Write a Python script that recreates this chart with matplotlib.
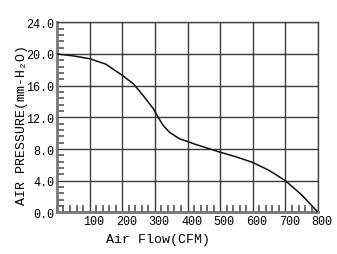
import matplotlib
matplotlib.use("Agg")
import matplotlib.pyplot as plt
from matplotlib.ticker import MultipleLocator
import matplotlib.transforms as mtransforms

flow = [0, 50, 100, 150, 200, 235, 265, 295, 310, 325, 345, 375, 400,
        420, 450, 500, 550, 600, 650, 700, 750, 800]
pressure = [20.0, 19.75, 19.4, 18.7, 17.3, 16.2, 14.7, 13.1, 12.0, 11.0, 10.1,
            9.3, 8.95, 8.65, 8.25, 7.6, 7.0, 6.3, 5.3, 4.0, 2.2, 0.0]

x_ticks = [100, 200, 300, 400, 500, 600, 700, 800]
y_ticks = [0, 4, 8, 12, 16, 20, 24]

plt.rcParams["font.family"] = ["Liberation Mono", "DejaVu Sans Mono"]

fig = plt.figure(figsize=(3.37, 2.55), dpi=100)
ax = fig.add_axes([0.169, 0.163, 0.775, 0.746])

ax.plot(flow, pressure, color="#111111", lw=1.1, zorder=3)

ax.set_xlim(0, 800)
ax.set_ylim(0, 24)
ax.set_xticks(x_ticks)
ax.set_yticks(y_ticks)
ax.set_xticklabels([str(v) for v in x_ticks], fontsize=8.5)
ax.set_yticklabels(["%.1f" % v for v in y_ticks], fontsize=8.5)
ax.xaxis.set_minor_locator(MultipleLocator(20))
ax.yaxis.set_minor_locator(MultipleLocator(0.8))

ax.grid(True, which="major", color="#3a3a3a", lw=1.0)
ax.tick_params(which="major", length=0, pad=2)
ax.tick_params(which="minor", direction="in", length=5, width=1.2, color="#555555")

# shift x tick labels a little right, like the original
offset = mtransforms.ScaledTranslation(4 / 100, 0, fig.dpi_scale_trans)
for lbl in ax.get_xticklabels():
    lbl.set_transform(lbl.get_transform() + offset)

for s in ax.spines.values():
    s.set_color("#444444")
    s.set_linewidth(1.0)
ax.spines["left"].set_color("#777777")
ax.spines["left"].set_linewidth(2.0)
ax.spines["bottom"].set_color("#777777")
ax.spines["bottom"].set_linewidth(2.0)

fig.text(158 / 337, 1 - 240 / 255, "Air Flow(CFM)", ha="center", va="center",
         fontsize=9.5)
fig.text(22 / 337, 1 - 125 / 255, "AIR PRESSURE(mm-H\u2082O)", ha="center",
         va="center", rotation=90, fontsize=9.5)

fig.savefig("out.png", dpi=100)
